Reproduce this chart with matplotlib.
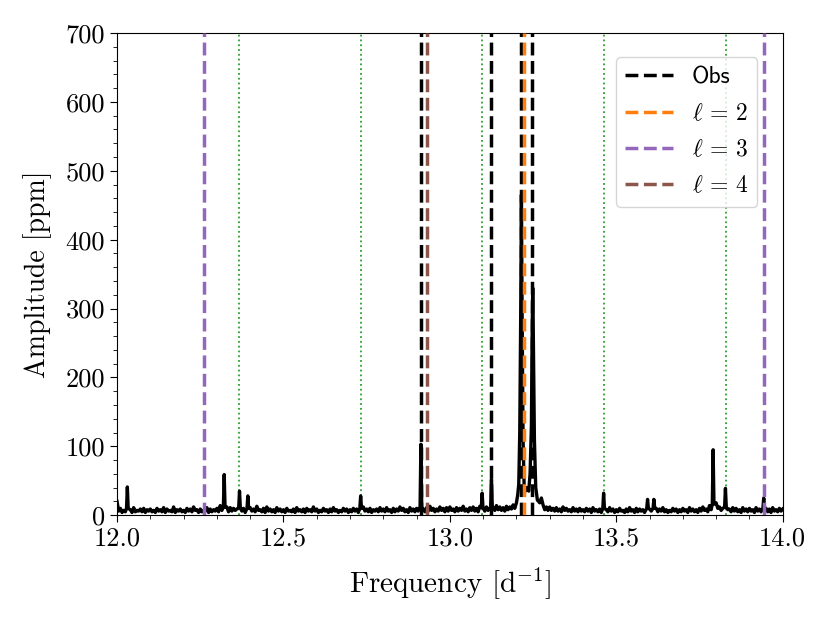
import numpy as np
import matplotlib
matplotlib.use("Agg")
import matplotlib.pyplot as plt
from matplotlib.ticker import MultipleLocator, FuncFormatter

plt.rcParams['mathtext.fontset'] = 'cm'
plt.rcParams['font.family'] = 'cmr10'
plt.rcParams['axes.formatter.use_mathtext'] = True

# ---- data ----
grid_start = 12.0
grid_step = 0.01
noise = [
    20, 10, 7, 9, 8, 11, 7, 9, 10, 8,
    9, 7, 10, 8, 11, 9, 7, 12, 8, 9,
    7, 10, 9, 12, 8, 9, 7, 11, 9, 8,
    10, 14, 9, 12, 11, 10, 9, 12, 10, 8,
    11, 9, 13, 8, 10, 12, 9, 8, 11, 9,
    8, 10, 7, 9, 11, 8, 9, 10, 8, 12,
    9, 7, 10, 8, 9, 11, 8, 7, 10, 9,
    8, 10, 9, 7, 12, 9, 10, 8, 9, 11,
    9, 11, 8, 10, 9, 12, 10, 8, 11, 9,
    10, 12, 9, 11, 13, 10, 9, 12, 10, 11,
    12, 9, 11, 10, 13, 9, 11, 12, 10, 13,
    9, 12, 10, 11, 14, 12, 11, 13, 12, 15,
    16, 25, 30, 35, 30, 28, 22, 18, 14, 12,
    12, 10, 11, 9, 12, 10, 8, 11, 9, 10,
    8, 10, 9, 11, 8, 9, 10, 8, 11, 9,
    8, 10, 7, 9, 11, 8, 10, 9, 8, 10,
    9, 8, 10, 9, 11, 8, 7, 10, 9, 8,
    10, 8, 11, 9, 8, 10, 12, 9, 14, 16,
    18, 12, 10, 14, 9, 11, 10, 8, 11, 9,
    10, 8, 11, 9, 12, 10, 9, 11, 8, 10,
    9,
]
# values half-way between the grid points (troughs of the noise band)
noise_mid = [
    6, 4, 5, 6, 4, 5, 6, 5, 4, 6,
    5, 4, 6, 5, 4, 6, 5, 4, 6, 5,
    4, 6, 5, 7, 4, 5, 6, 4, 5, 6,
    5, 7, 6, 5, 6, 7, 5, 6, 4, 5,
    6, 5, 7, 5, 4, 6, 5, 4, 6, 5,
    4, 6, 5, 4, 6, 5, 4, 6, 5, 6,
    4, 5, 6, 4, 5, 6, 4, 5, 6, 4,
    5, 6, 4, 5, 6, 5, 4, 6, 5, 6,
    5, 6, 4, 5, 6, 7, 5, 4, 6, 5,
    6, 7, 5, 6, 7, 5, 6, 7, 5, 6,
    7, 5, 6, 7, 6, 5, 7, 6, 5, 7,
    6, 7, 6, 7, 8, 7, 6, 8, 9, 10,
    12, 15, 18, 20, 18, 15, 12, 10, 8, 7,
    7, 6, 6, 5, 7, 6, 5, 6, 5, 6,
    5, 6, 4, 6, 5, 4, 6, 5, 6, 4,
    5, 6, 4, 5, 6, 4, 5, 6, 4, 5,
    6, 4, 5, 6, 5, 4, 5, 6, 4, 5,
    6, 4, 6, 5, 4, 6, 7, 5, 8, 9,
    10, 7, 6, 8, 5, 6, 5, 4, 6, 5,
    6, 4, 6, 5, 7, 5, 4, 6, 5, 6,
]
# isolated peaks: (frequency, amplitude)
peak_freq = [12.031, 12.322, 12.368, 12.393, 12.732, 12.913, 13.097, 13.125,
             13.462, 13.594, 13.613, 13.791, 13.828, 13.943]
peak_amp = [41, 59, 35, 28, 28, 103, 32, 52,
            32, 23, 23, 95, 39, 25]
peak_base = [10, 12, 11, 10, 10, 12, 11, 12,
             10, 10, 10, 16, 12, 10]
# main doublet region
main_freq = [13.200, 13.204, 13.207, 13.210, 13.213, 13.215, 13.217, 13.220,
             13.223, 13.227, 13.232, 13.237, 13.241, 13.245, 13.247, 13.249,
             13.251, 13.254, 13.258, 13.263, 13.270, 13.275, 13.280]
main_amp = [18, 30, 45, 120, 300, 465, 300, 110,
            45, 35, 40, 35, 60, 130, 250, 330,
            250, 110, 40, 22, 18, 25, 15]

obs_freq = [12.913, 13.125, 13.213, 13.247]
l2_freq = [13.222]
l3_freq = [12.261, 13.943]
l4_freq = [12.932]
comb_freq = [12.0, 12.366, 12.732, 13.098, 13.463, 13.829]

# ---- assemble spectrum ----
gf = grid_start + grid_step * np.arange(len(noise))
mf = grid_start + grid_step * (np.arange(len(noise_mid)) + 0.5)
pts = []
for f, a in list(zip(gf, noise)) + list(zip(mf, noise_mid)):
    if any(abs(f - p) < 0.004 for p in peak_freq):
        continue
    if main_freq[0] <= f <= main_freq[-1]:
        continue
    pts.append((f, a))
for p, a, b in zip(peak_freq, peak_amp, peak_base):
    pts += [(p - 0.0025, b), (p, a), (p + 0.0025, b)]
pts += list(zip(main_freq, main_amp))
pts.sort()
freq = np.array([p[0] for p in pts])
amp = np.array([p[1] for p in pts])

fig = plt.figure(figsize=(8.3, 6.23), dpi=100)
ax = fig.add_axes([0.141, 0.173, 0.802, 0.774])

for f in comb_freq:
    ax.axvline(f, color='tab:green', ls=':', lw=1.3, zorder=1)
ax.plot(freq, amp, color='black', lw=2.4, zorder=2)

lw_v = 2.5
for i, f in enumerate(obs_freq):
    ax.axvline(f, color='black', ls='--', lw=lw_v, zorder=3, label='Obs' if i == 0 else None)
for i, f in enumerate(l2_freq):
    ax.axvline(f, color='tab:orange', ls='--', lw=lw_v, zorder=3, label=r'$\ell\,=\,2$' if i == 0 else None)
for i, f in enumerate(l3_freq):
    ax.axvline(f, color='tab:purple', ls='--', lw=lw_v, zorder=3, label=r'$\ell\,=\,3$' if i == 0 else None)
for i, f in enumerate(l4_freq):
    ax.axvline(f, color='tab:brown', ls='--', lw=lw_v, zorder=3, label=r'$\ell\,=\,4$' if i == 0 else None)

ax.set_xlim(12, 14)
ax.set_ylim(0, 700)
ax.xaxis.set_major_locator(MultipleLocator(0.5))
ax.xaxis.set_minor_locator(MultipleLocator(0.1))
ax.yaxis.set_major_locator(MultipleLocator(100))
ax.yaxis.set_minor_locator(MultipleLocator(20))
ax.xaxis.set_major_formatter(FuncFormatter(lambda v, p: f"{v:.1f}"))
ax.yaxis.set_major_formatter(FuncFormatter(lambda v, p: f"{v:.0f}"))
ax.tick_params(which='major', labelsize=19, length=5)
ax.tick_params(which='minor', length=3)

ax.set_xlabel(r'Frequency [d$^{-1}$]', fontsize=21, labelpad=10)
ax.set_ylabel('Amplitude [ppm]', fontsize=20, labelpad=10)

leg = ax.legend(loc='upper right', bbox_to_anchor=(0.962, 0.950), borderaxespad=0,
                fontsize=17, labelspacing=0.6, handlelength=2.0)
for t in leg.get_texts():
    if t.get_text() == 'Obs':
        t.set_fontfamily('cmss10')

fig.savefig('out.png', dpi=100)
